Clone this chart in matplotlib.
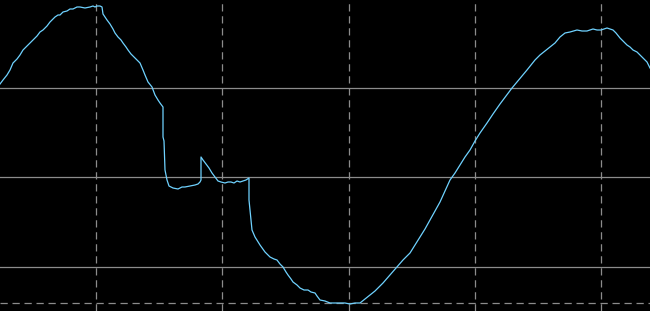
import matplotlib
matplotlib.use("Agg")
import matplotlib.pyplot as plt

# trace: (sample index, screen row), row grows downward
trace_pts = [
    (0, 84), (3, 80), (7, 75), (10, 70), (13, 63), (17, 59), (20, 55), (23, 50),
    (27, 46), (30, 43), (33, 40), (37, 36), (40, 32), (43, 30), (47, 26), (50, 22),
    (53, 19), (55, 17), (58, 15), (60, 15), (63, 12), (67, 11), (70, 9), (73, 9),
    (77, 7), (80, 7), (85, 8), (90, 7), (93, 6), (95, 7), (97, 6), (100, 6),
    (102, 7), (103, 14), (107, 20), (110, 24), (113, 29), (115, 33), (118, 37), (121, 40),
    (123, 43), (126, 47), (128, 50), (131, 54), (135, 58), (138, 61), (140, 63), (143, 70),
    (145, 75), (148, 82), (152, 87), (155, 95), (158, 100), (160, 103), (163, 107), (163, 137),
    (164, 141), (165, 170), (167, 180), (169, 186), (173, 188), (178, 189), (180, 188), (182, 187),
    (185, 187), (190, 186), (195, 185), (198, 184), (200, 182), (201, 180), (201, 157), (203, 160),
    (206, 164), (209, 168), (212, 173), (215, 177), (218, 181), (221, 182), (225, 183), (228, 182),
    (231, 182), (234, 183), (237, 181), (240, 182), (243, 181), (246, 180), (249, 178), (249, 200),
    (250, 210), (252, 230), (255, 237), (260, 245), (265, 252), (270, 257), (274, 259), (277, 260),
    (280, 264), (283, 267), (286, 272), (288, 275), (291, 279), (293, 282), (297, 285), (300, 288),
    (304, 290), (308, 290), (311, 292), (315, 293), (317, 296), (320, 300), (325, 301), (330, 303),
    (335, 303), (340, 303), (345, 303), (350, 304), (355, 303), (360, 303), (365, 299), (370, 295),
    (375, 291), (380, 286), (383, 283), (390, 275), (397, 267), (403, 260), (410, 253), (415, 245),
    (420, 237), (425, 229), (430, 220), (435, 211), (440, 202), (445, 191), (450, 180), (455, 173),
    (460, 165), (465, 157), (470, 150), (475, 141), (480, 133), (487, 123), (493, 114), (500, 104),
    (506, 96), (512, 88), (517, 82), (522, 76), (527, 70), (531, 65), (535, 60), (540, 55),
    (545, 51), (550, 47), (555, 43), (560, 37), (565, 33), (570, 32), (577, 30), (582, 31),
    (587, 31), (593, 29), (597, 30), (601, 30), (604, 29), (607, 28), (610, 29), (613, 30),
    (616, 33), (620, 38), (623, 41), (627, 45), (630, 47), (633, 50), (637, 52), (640, 55),
    (643, 58), (647, 62), (650, 68),
]
trace_x = [p[0] for p in trace_pts]
trace_y = [p[1] for p in trace_pts]

# graticule
grid_rows = [88, 177, 267]
dash_rows = [303]
dash_cols = [96, 222, 349, 475, 601]

fig = plt.figure(figsize=(6.5, 3.11), dpi=100, facecolor="black")
ax = fig.add_axes([0, 0, 1, 1])
ax.set_facecolor("black")
ax.set_xlim(0, 650)
ax.set_ylim(311, 0)
ax.axis("off")

dash = (0, (5.8, 3.8))
for r in grid_rows:
    ax.axhline(r, color="#8c8c8c", lw=0.9, zorder=1)
for r in dash_rows:
    ax.axhline(r, color="#8c8c8c", lw=0.9, ls=dash, zorder=1)
for c in dash_cols:
    ax.axvline(c, color="#8c8c8c", lw=0.9, ls=dash, zorder=1)

ax.plot(trace_x, trace_y, color="#6fd2ff", lw=0.9, zorder=2)

fig.savefig("out.png", dpi=100, facecolor="black")
